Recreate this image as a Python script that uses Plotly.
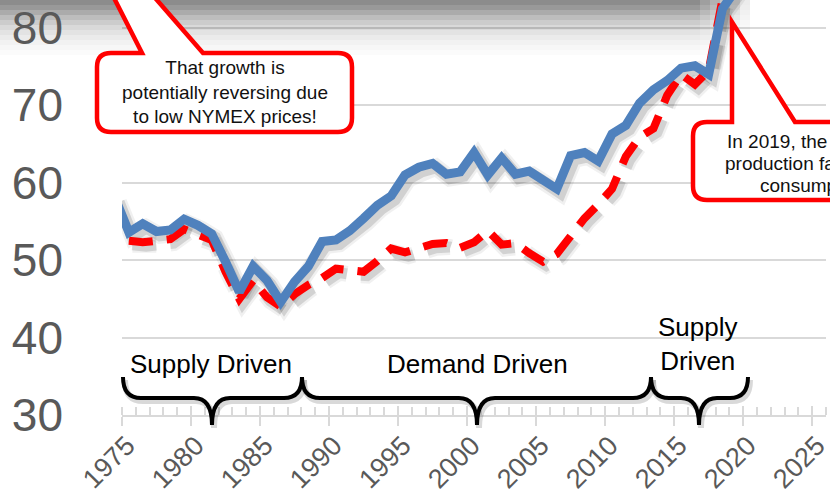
import plotly.graph_objects as go

# ---------------- data ----------------
years_cons = list(range(1974, 2020))
consumption = [58.0, 53.6, 54.7, 53.7, 53.9, 55.3, 54.5, 53.4, 49.8, 45.9,
               49.2, 47.4, 44.6, 47.2, 49.2, 52.4, 52.6, 53.8, 55.4, 57.1,
               58.3, 61.0, 62.0, 62.5, 61.1, 61.4, 63.9, 61.0, 63.2, 61.1,
               61.5, 60.4, 59.2, 63.5, 63.9, 62.8, 66.3, 67.4, 70.3, 72.0,
               73.2, 74.8, 75.1, 74.0, 82.5, 85.0]

years_prod = list(range(1975, 2020))
production = [52.5, 52.3, 52.5, 52.7, 54.0, 53.2, 52.6, 48.5, 45.0, 47.4,
              45.2, 44.0, 45.6, 46.8, 47.7, 48.9, 48.6, 48.5, 49.9, 51.5,
              51.0, 51.6, 52.1, 52.2, 51.6, 52.3, 53.8, 52.0, 52.2, 50.9,
              49.8, 50.8, 53.3, 55.4, 57.2, 59.2, 63.4, 65.9, 67.0, 71.3,
              74.0, 72.7, 74.5, 83.8, 92.9]

x_ticks = [1975, 1980, 1985, 1990, 1995, 2000, 2005, 2010, 2015, 2020, 2025]
y_ticks = [30, 40, 50, 60, 70, 80]

periods = ["Supply Driven", "Demand Driven", "Supply<br>Driven"]
callout_left = "That growth is<br>potentially reversing due<br>to low NYMEX prices!"
callout_right = ["In 2019, the U.S. natural gas",
                 "production far exceeded",
                 "consumption!"]

# ---------------- layout geometry ----------------
W, H = 830, 504
ML, MR, MT, MB = 122, 4, 0, 89
PW, PH = W - ML - MR, H - MT - MB
XR = [1975, 2026.0]
YR = [30, 83.6]


def px(x):
    return (x - ML) / PW


def py(y):
    return (MT + PH - y) / PH


def path_open(points):
    out = []
    for cmd, pts in points:
        out.append(cmd + " ".join(f"{px(a):.5f},{py(b):.5f}" for a, b in pts))
    return " ".join(out)


def path(points):
    return path_open(points) + " Z"


mid = lambda ys: [y + 0.5 for y in ys]

fig = go.Figure()

# shadows
dx, dy = 0.25, -0.5
for w, a in [(16, 0.06), (11, 0.12)]:
    fig.add_trace(go.Scatter(x=[v + dx for v in mid(years_prod)], y=[v + dy for v in production],
                             mode="lines", line=dict(color=f"rgba(0,0,0,{a})", width=w, dash="24px,14px"),
                             hoverinfo="skip", showlegend=False))
for w, a in [(17, 0.06), (12, 0.13)]:
    fig.add_trace(go.Scatter(x=[v + dx for v in mid(years_cons)], y=[v + dy for v in consumption],
                             mode="lines", line=dict(color=f"rgba(0,0,0,{a})", width=w),
                             hoverinfo="skip", showlegend=False))

fig.add_trace(go.Scatter(x=mid(years_prod), y=production, mode="lines", name="Production",
                         line=dict(color="#ff0000", width=8, dash="24px,14px")))
fig.add_trace(go.Scatter(x=mid(years_cons), y=consumption, mode="lines", name="Consumption",
                         line=dict(color="#4f81bd", width=9)))
# dummy trace for overlay axis (major tick inner part)
fig.add_trace(go.Scatter(x=[None], y=[None], xaxis="x2", showlegend=False, hoverinfo="skip"))

shapes = []
# top grey gradient (shadow band)
alphas = [0.45, 0.40, 0.33, 0.26, 0.20, 0.15, 0.11, 0.08, 0.05, 0.03, 0.015]
for i, a in enumerate(alphas):
    y0, y1 = i * 5, i * 5 + 5
    shapes.append(dict(type="rect", xref="paper", yref="paper", x0=px(0), x1=px(700),
                       y0=py(y1), y1=py(y0), fillcolor=f"rgba(0,0,0,{a})", line=dict(width=0),
                       layer="below"))
    for k in range(5):
        f = 1 - (k + 1) / 6
        shapes.append(dict(type="rect", xref="paper", yref="paper", x0=px(700 + 10 * k),
                           x1=px(710 + 10 * k), y0=py(y1), y1=py(y0),
                           fillcolor=f"rgba(0,0,0,{a * f:.4f})", line=dict(width=0), layer="below"))


# braces
def brace(x0, x1, xm, ytop=377, yh=398, ytip=425, r=18):
    return path_open([("M", [(x0, ytop)]), ("Q", [(x0, yh), (x0 + r, yh)]),
                      ("L", [(xm - r, yh)]), ("Q", [(xm, yh), (xm, ytip)]),
                      ("Q", [(xm, yh), (xm + r, yh)]), ("L", [(x1 - r, yh)]),
                      ("Q", [(x1, yh), (x1, ytop)])])


braces = [(123, 302, 212), (302, 651, 477), (651, 748, 699)]
for (a, b, m) in braces:
    shapes.append(dict(type="path", xref="paper", yref="paper",
                       path=brace(a + 2, b + 2, m + 2, 380, 401, 428),
                       line=dict(color="rgba(0,0,0,0.15)", width=6), layer="above"))
    shapes.append(dict(type="path", xref="paper", yref="paper", path=brace(a, b, m),
                       line=dict(color="black", width=4), layer="above"))

# callout left
r = 14
L, R, T, B = 97, 352, 53, 132
c1 = path([("M", [(L + r, T)]), ("L", [(142, T)]), ("L", [(56, -116)]), ("L", [(203, T)]),
           ("L", [(R - r, T)]), ("Q", [(R, T), (R, T + r)]), ("L", [(R, B - r)]),
           ("Q", [(R, B), (R - r, B)]), ("L", [(L + r, B)]), ("Q", [(L, B), (L, B - r)]),
           ("L", [(L, T + r)]), ("Q", [(L, T), (L + r, T)])])
shapes.append(dict(type="path", xref="paper", yref="paper", path=c1, fillcolor="white",
                   line=dict(color="#ff0000", width=4.5), layer="above"))
# callout right
L2, T2, B2, R2 = 693, 122, 200, 990
c2 = path([("M", [(L2 + r, T2)]), ("L", [(732, T2)]), ("L", [(732, 22)]), ("L", [(795, T2)]),
           ("L", [(R2, T2)]), ("L", [(R2, B2)]), ("L", [(L2 + r, B2)]),
           ("Q", [(L2, B2), (L2, B2 - r)]), ("L", [(L2, T2 + r)]), ("Q", [(L2, T2), (L2 + r, T2)])])
shapes.append(dict(type="path", xref="paper", yref="paper", path=c2, fillcolor="white",
                   line=dict(color="#ff0000", width=4.5), layer="above"))

annotations = []
lab_font = dict(family="Liberation Sans, Arial, sans-serif", size=26, color="black")
for txt, (ax_, ay_) in zip(periods, [(211, 364), (477, 364), (698, 344)]):
    annotations.append(dict(text=txt, x=px(ax_), y=py(ay_), xref="paper", yref="paper",
                            showarrow=False, font=lab_font, xanchor="center", yanchor="middle"))
call_font = dict(family="Liberation Sans, Arial, sans-serif", size=19, color="#111111")
annotations.append(dict(text=callout_left, x=px(225), y=py(92), xref="paper", yref="paper",
                        showarrow=False, font=call_font, xanchor="center", yanchor="middle",
                        align="center"))
for txt, (ax_, ay_) in zip(callout_right, [(725, 141), (723, 163), (758, 185)]):
    annotations.append(dict(text=txt, x=px(ax_), y=py(ay_), xref="paper", yref="paper",
                            showarrow=False, font=call_font, xanchor="left", yanchor="middle"))

axis_grey = "#d9d9d9"
fig.update_layout(
    width=W, height=H, margin=dict(l=ML, r=MR, t=MT, b=MB, autoexpand=False),
    paper_bgcolor="white", plot_bgcolor="rgba(0,0,0,0)",
    showlegend=False,
    xaxis=dict(range=XR, tickvals=x_ticks, ticktext=[str(v) for v in x_ticks],
               tickangle=-45, ticks="outside", ticklen=9, tickwidth=2, tickcolor=axis_grey,
               showline=True, linecolor=axis_grey, linewidth=2, showgrid=False, zeroline=False,
               automargin=False, ticklabelshift=5, ticklabelstandoff=-7,
               ticklabeloverflow="allow",
               tickfont=dict(family="Liberation Sans, Arial, sans-serif", size=27, color="#595959"),
               minor=dict(ticks="inside", dtick=1, tick0=1975, ticklen=8, tickwidth=1.5,
                          tickcolor=axis_grey, showgrid=False)),
    xaxis2=dict(range=XR, overlaying="x", anchor="y", tickvals=x_ticks, ticks="inside",
                ticklen=9, tickwidth=2, tickcolor=axis_grey, showticklabels=False,
                showline=False, showgrid=False, zeroline=False, automargin=False),
    yaxis=dict(range=YR, tickvals=y_ticks, showgrid=True, gridcolor="rgba(0,0,0,0.15)",
               gridwidth=2, zeroline=False, showline=False, ticks="", automargin=False,
               ticklabelstandoff=58,
               tickfont=dict(family="Liberation Sans, Arial, sans-serif", size=46, color="#595959")),
    shapes=shapes, annotations=annotations,
)

fig.write_html("out.html", config={"displayModeBar": False},
               post_script="document.body.style.margin='0px';")
